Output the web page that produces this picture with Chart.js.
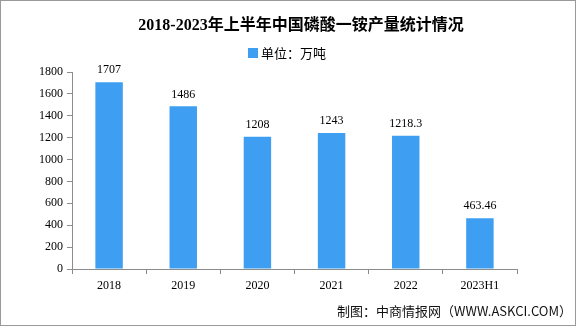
<!DOCTYPE html>
<html lang="zh">

<head>
    <meta charset="UTF-8">
    <title>磷酸一铵产量</title>
    <script src="https://cdn.jsdelivr.net/npm/chart.js@4.4.0/dist/chart.umd.min.js"></script>
    <style>
        body { margin: 0; background: #fff; }
        #wrap { width: 585px; height: 327px; position: relative; }
    </style>
</head>

<body>
    <div id="wrap">
        <canvas id="myChart"></canvas>
    </div>

    <script>
        // 产量数据（万吨）
        const years = ['2018', '2019', '2020', '2021', '2022', '2023H1'];
        const output = [1707, 1486, 1208, 1243, 1218.3, 463.46];
        const valueLabels = ['1707', '1486', '1208', '1243', '1218.3', '463.46'];
        const yTicks = [0, 200, 400, 600, 800, 1000, 1200, 1400, 1600, 1800];

        const titleText = '2018-2023年上半年中国磷酸一铵产量统计情况';
        const legendText = '单位：万吨';
        const sourceText = '制图：中商情报网（WWW.ASKCI.COM）';

        const barColor = 'rgb(61,158,242)';
        const axisColor = '#8c8c8c';
        const numFont = '12px "Liberation Serif", "Noto Sans CJK SC", serif';

        // 标题、图例、来源、外框和柱顶数值
        const decorations = {
            id: 'decorations',
            afterDraw(chart) {
                const ctx = chart.ctx;
                ctx.save();

                ctx.strokeStyle = '#9a9a9a';
                ctx.lineWidth = 1;
                ctx.strokeRect(0.5, 0.5, 575, 325);

                ctx.fillStyle = '#000';
                ctx.font = 'bold 16px "Liberation Serif", "Noto Sans CJK SC", serif';
                ctx.textAlign = 'center';
                ctx.textBaseline = 'middle';
                ctx.fillText(titleText, 301, 26);

                ctx.fillStyle = barColor;
                ctx.fillRect(248, 48, 10, 10);
                ctx.fillStyle = '#000';
                ctx.font = '13px "Noto Sans CJK SC", sans-serif';
                ctx.textAlign = 'left';
                ctx.fillText(legendText, 261, 53);

                ctx.textAlign = 'right';
                ctx.fillStyle = '#111';
                ctx.fillText(sourceText, 572, 311);

                const meta = chart.getDatasetMeta(0);
                ctx.font = numFont;
                ctx.textAlign = 'center';
                ctx.textBaseline = 'bottom';
                ctx.fillStyle = '#000';
                meta.data.forEach((bar, i) => {
                    ctx.fillText(valueLabels[i], bar.x, bar.y - 6);
                });
                ctx.restore();
            }
        };

        const ctx = document.getElementById('myChart').getContext('2d');
        new Chart(ctx, {
            type: 'bar',
            data: {
                labels: years,
                datasets: [{
                    label: legendText,
                    data: output,
                    backgroundColor: barColor,
                    borderWidth: 0,
                    categoryPercentage: 1,
                    barPercentage: 0.37
                }]
            },
            options: {
                responsive: true,
                maintainAspectRatio: false,
                animation: false,
                layout: { padding: { top: 72, right: 68, bottom: 18, left: 0 } },
                plugins: {
                    legend: { display: false },
                    title: { display: false },
                    tooltip: { enabled: false }
                },
                scales: {
                    x: {
                        afterFit(scale) { scale.height = 40; },
                        border: { color: axisColor, width: 1 },
                        grid: {
                            offset: true,
                            drawOnChartArea: false,
                            tickLength: 5,
                            color: axisColor
                        },
                        ticks: {
                            color: '#000',
                            font: { family: '"Liberation Serif", serif', size: 12 },
                            padding: 5,
                            maxRotation: 0
                        }
                    },
                    y: {
                        min: 0,
                        max: 1800,
                        afterFit(scale) { scale.width = 72; },
                        afterBuildTicks(scale) {
                            scale.ticks = yTicks.map(v => ({ value: v }));
                        },
                        border: { color: axisColor, width: 1 },
                        grid: {
                            drawOnChartArea: false,
                            tickLength: 5,
                            color: axisColor
                        },
                        ticks: {
                            color: '#000',
                            font: { family: '"Liberation Serif", serif', size: 12 },
                            padding: 4,
                            callback: value => String(value)
                        }
                    }
                }
            },
            plugins: [decorations]
        });
    </script>
</body>

</html>
